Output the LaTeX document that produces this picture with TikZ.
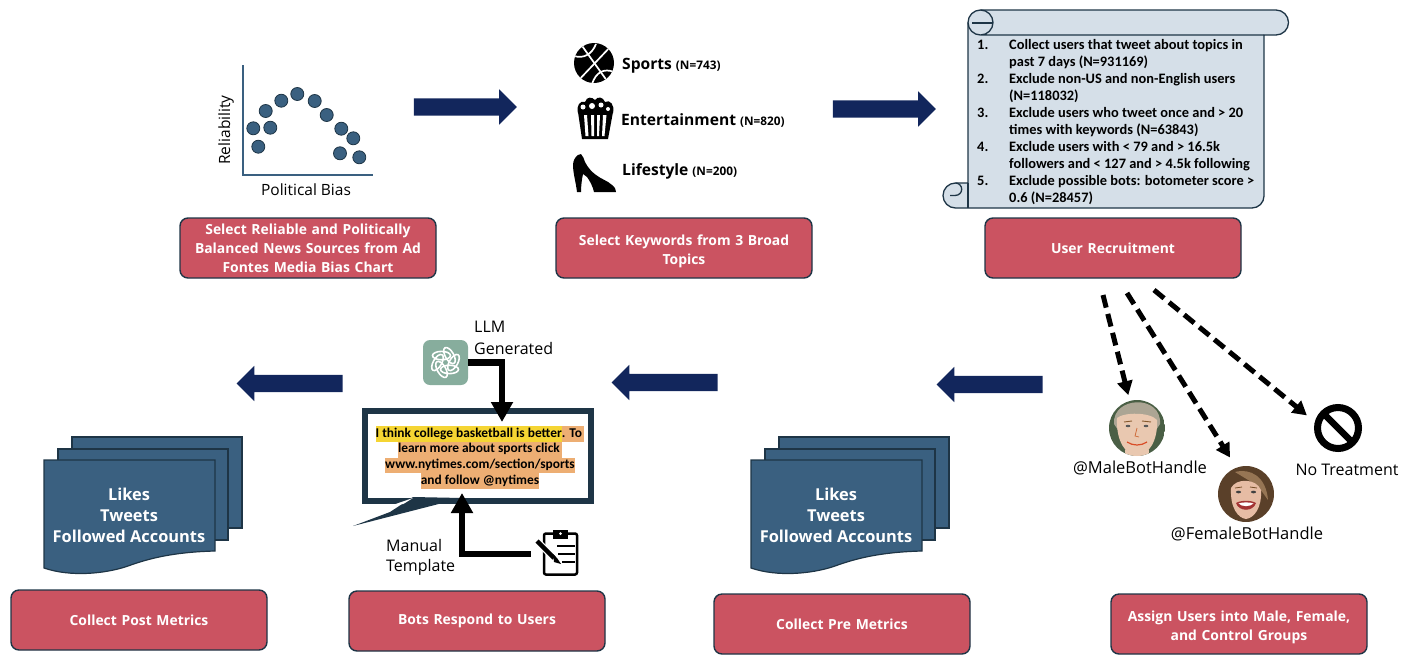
\documentclass[tikz,border=0pt]{standalone}
\usepackage{fontspec}
\setmainfont{Open Sans}
\newfontfamily\carl{Carlito}
\usetikzlibrary{arrows.meta,shapes.arrows,calc}
\definecolor{boxred}{HTML}{CB5361}
\definecolor{edge}{HTML}{1E3546}
\definecolor{steel}{HTML}{3A6080}
\definecolor{navy}{HTML}{12265C}
\definecolor{scrollc}{HTML}{D5DFE8}
\definecolor{hy}{HTML}{F5D533}
\definecolor{ho}{HTML}{EDAE73}
\definecolor{gpt}{HTML}{87AD9D}
\definecolor{skinm}{HTML}{E9C8B0}
\definecolor{hairm}{HTML}{ACA594}
\definecolor{bgm}{HTML}{4A5F45}
\definecolor{skinf}{HTML}{E6BCA4}
\definecolor{hairf}{HTML}{5A4029}
\newcommand{\fs}[2]{\fontsize{#1}{#2}\selectfont}
\newcommand{\twoline}{\rule{0pt}{16.5pt}}
\tikzset{
  x=1pt,y=-1pt,
  stepbox/.style={draw=edge,line width=1.4pt,fill=boxred,rounded corners=8pt,minimum width=256pt,minimum height=60pt,inner sep=2pt,text width=250pt,align=center,text=white,font=\fs{13.9}{19}\bfseries},
  rarrow/.style={single arrow,fill=navy,draw=none,inner sep=8.5pt,minimum width=35pt,minimum height=103pt,single arrow head extend=9pt,single arrow tip angle=90,anchor=center},
  larrow/.style={rarrow,minimum height=106pt,shape border rotate=180},
  sheet/.style={draw=edge,line width=1.2pt,fill=steel},
  dot/.style={circle,draw=edge,line width=.8pt,fill=steel,minimum size=13pt,inner sep=0pt},
  label/.style={inner sep=0pt,font=\fs{16}{18}},
  plotlabel/.style={inner sep=0pt,font=\fs{15.5}{18}},
  handle/.style={inner sep=0pt,font=\fs{16.5}{18}},
  toph/.style={inner sep=0pt,anchor=west,font=\fs{15.6}{18}\bfseries},
  dashconn/.style={line width=5pt,dash pattern=on 13pt off 6.5pt,-{Triangle[length=14pt,width=15pt]}},
  solidconn/.style={line width=6.5pt,-{Triangle[length=20pt,width=21pt]}},
  sheettext/.style={inner sep=0pt,align=center,text=white,font=\fs{16.4}{21}\bfseries},
  avatar/.style={circle,minimum size=56pt,inner sep=0pt,outer sep=0pt}
}
\begin{document}
\begin{tikzpicture}
\useasboundingbox (0,0) rectangle (1416,654);
% step boxes
\node[stepbox] (b1) at (308,248) {Select Reliable and Politically\\Balanced News Sources from Ad\\Fontes Media Bias Chart};
\node[stepbox] (b2) at (684,248) {\twoline Select Keywords from 3 Broad\\Topics};
\node[stepbox] (b3) at (1113,248) {User Recruitment};
\node[stepbox] (b4) at (139,620) {Collect Post Metrics};
\node[stepbox] (b5) at (477,621) {Bots Respond to Users};
\node[stepbox] (b6) at (842,624) {Collect Pre Metrics};
\node[stepbox] (b7) at (1239,624) {\twoline Assign Users into Male, Female,\\and Control Groups};
% block arrows
\node[rarrow] (a1) at (461,107) {};
\node[rarrow] (a2) at (880,109) {};
\node[larrow] (a3) at (994,384.5) {};
\node[larrow] (a4) at (669,382.5) {};
\node[larrow] (a5) at (294,383.5) {};
% plot
\draw[steel,line width=1.3pt] (243,65) -- (243,175) -- (373,175);
\foreach \i/\p in {1/{253.3,128.3},2/{258.3,146.7},3/{265.7,111},4/{270.3,127.7},5/{281.3,100.7},6/{297.3,94},7/{314.7,101},8/{326.7,115},9/{341.3,128.7},10/{353.3,138.3},11/{340,153.3},12/{359.3,157.3}}
  \node[dot] (p\i) at (\p) {};
\node[plotlabel,rotate=90] (rel) at (226,130) {Reliability};
\node[plotlabel] (pb) at (306,190) {Political Bias};
% topic icons
\fill (594,63) circle (20);
\begin{scope}
\clip (594,63) circle (20);
\draw[white,line width=1.7pt] (580,43) -- (610,85);
\draw[white,line width=1.7pt] (612,45) -- (576,83);
\draw[white,line width=1.7pt] (574,56) .. controls (584,59) and (592,54) .. (596,44);
\draw[white,line width=1.7pt] (614,72) .. controls (604,68) and (596,72) .. (592,84);
\end{scope}
\fill (578,113) .. controls (576,106) and (580,100) .. (585,102) .. controls (587,96) and (592,97) .. (595,100) .. controls (598,96) and (603,97) .. (605,102) .. controls (610,99) and (615,105) .. (613,113) -- cycle;
\fill[white] (583,107) circle (2.5) (592,106) circle (3) (601,105) circle (2.5) (608,109) circle (2);
\fill (578,112) -- (613,112) -- (608,139) -- (582,139) -- cycle;
\fill[white] (584,115) -- (587,115) -- (588.5,136) -- (585.5,136) -- cycle;
\fill[white] (591,115) -- (594,115) -- (594,136) -- (591.5,136) -- cycle;
\fill[white] (597,115) -- (600,115) -- (599,136) -- (597,136) -- cycle;
\fill[white] (603,115) -- (606.5,115) -- (604.5,136) -- (602,136) -- cycle;
\fill (578,155) -- (581,154) .. controls (583,156) and (584,159) .. (585,162) .. controls (588,168) and (592,172) .. (596,175) .. controls (601,179) and (608,181) .. (612,185) .. controls (615,187) and (616,190) .. (616,192) -- (594,192) .. controls (593,187) and (590,181) .. (587,177) -- (583,174) .. controls (582,178) and (581,186) .. (581,192) -- (577,192) .. controls (576,183) and (573,173) .. (573,165) .. controls (573,161) and (575,157) .. (578,155) -- cycle;
\node[toph] (t1) at (622,65.5) {Sports \fs{11.8}{14}(N=743)};
\node[toph] (t2) at (621,120.5) {Entertainment \fs{11.8}{14}(N=820)};
\node[toph] (t3) at (622,171.5) {Lifestyle \fs{11.8}{14}(N=200)};
% scroll
\draw[edge,line width=1.3pt,fill=scrollc,line join=round]
  (980.5,10) -- (1276,10) arc[start angle=-90,end angle=90,radius=12.5]
  -- (1264,35) -- (1264,196) arc[start angle=0,end angle=90,radius=12]
  -- (955.5,208) arc[start angle=90,end angle=270,radius=12.5]
  -- (968,183) -- (968,22.5) arc[start angle=180,end angle=270,radius=12.5] -- cycle;
\draw[edge,line width=1.3pt] (980.5,10) arc[start angle=270,end angle=450,radius=12.5] -- (1264,35);
\draw[edge,line width=1.3pt] (980.5,35) arc[start angle=90,end angle=180,radius=12.5];
\draw[edge,line width=1.3pt] (972,23) -- (993,23);
\draw[edge,line width=1.3pt] (968,208) -- (968,183);
\draw[edge,line width=1.3pt] (955.5,183) arc[start angle=270,end angle=450,radius=6.2] -- (950,195.5);
\node[inner sep=0pt,anchor=north west,font=\carl\fs{14.4}{17}\bfseries] (st) at (977,37) {\renewcommand\arraystretch{1}\begin{tabular}{@{}p{32pt}@{}l@{}}
1.& Collect users that tweet about topics in\\
  & past 7 days (N=931169)\\
2.& Exclude non-US and non-English users\\
  & (N=118032)\\
3.& Exclude users who tweet once and > 20\\
  & times with keywords (N=63843)\\
4.& Exclude users with < 79 and > 16.5k\\
  & followers and < 127 and > 4.5k following\\
5.& Exclude possible bots: botometer score >\\
  & 0.6 (N=28457)
\end{tabular}};
% avatars
\node[avatar] (male) at (1137,428) {};
\node[avatar] (female) at (1246,494) {};
\node[circle,minimum size=48pt,inner sep=0pt] (no) at (1338,428) {};
\begin{scope}
\clip (1137,428) circle (28);
\fill[bgm] (1109,400) rectangle (1165,456);
\fill[hairm] (1114,424) .. controls (1112,396) and (1162,394) .. (1160,424) -- (1156,430) -- (1118,430) -- cycle;
\fill[skinm] (1117,418) .. controls (1124,412) and (1150,412) .. (1157,420) .. controls (1158,442) and (1148,455) .. (1137,456) .. controls (1126,455) and (1116,442) .. (1117,418) -- cycle;
\fill[skinm] (1125,450) rectangle (1149,456);
\draw[brown!70!black,line width=.9pt] (1124,422) -- (1132,421) (1142,421) -- (1151,422);
\fill[black!65] (1128,426) ellipse (2.4 and 1.2) (1146,426) ellipse (2.4 and 1.2);
\draw[brown!80!red,line width=.7pt] (1137,428) -- (1135,436) -- (1139,437);
\draw[red!40!brown,line width=1.2pt] (1127,442) .. controls (1133,446) and (1141,446) .. (1147,442);
\end{scope}
\begin{scope}
\clip (1246,494) circle (28);
\fill[hairf] (1218,466) rectangle (1274,522);
\fill[brown!65!black!80] (1235,472) .. controls (1250,468) and (1266,476) .. (1268,500) -- (1258,486) -- cycle;
\fill[skinf] (1231,488) .. controls (1236,478) and (1256,478) .. (1261,490) .. controls (1262,508) and (1254,518) .. (1246,519) .. controls (1238,518) and (1230,508) .. (1231,488) -- cycle;
\draw[brown!60!black,line width=.8pt] (1235,488) -- (1242,487) (1250,487) -- (1257,488);
\fill[black!75] (1238.5,492) ellipse (2.6 and 1.3) (1253.5,492) ellipse (2.6 and 1.3);
\fill[red!55!black!80] (1236,503) .. controls (1241,500) and (1251,500) .. (1256,503) .. controls (1253,512) and (1239,512) .. (1236,503) -- cycle;
\fill[white] (1238.5,503.5) .. controls (1242,502) and (1250,502) .. (1253.5,503.5) .. controls (1250,507) and (1242,507) .. (1238.5,503.5) -- cycle;
\end{scope}
\draw[line width=7pt] (no) circle (20.5);
\draw[line width=6.5pt] ($(no)+(-14.5,-14.5)$) -- ($(no)+(14.5,14.5)$);
\node[handle] (lm) at (1140,468) {@MaleBotHandle};
\node[handle] (lf) at (1247,534) {@FemaleBotHandle};
\node[label] (ln) at (1347,470) {No Treatment};
\coordinate (d1) at (1103,295);
\coordinate (d2) at (1127,293);
\coordinate (d3) at (1154,290);
\draw[dashconn,shorten >=6pt] (d1) -- (male.105);
\draw[dashconn,shorten >=12pt] (d2) -- (female.110);
\draw[dashconn,shorten >=10pt] (d3) -- (no.165);
% sheets
\foreach \dx/\n in {0/L,707/R}{
\begin{scope}[shift={(\dx,0)}]
\draw[sheet] (72,437) rectangle (242,528);
\draw[sheet] (58,449) rectangle (228,540);
\draw[sheet] (44,460) -- (215,460) -- (215,551) .. controls (175,552) and (150,558) .. (128,566) .. controls (105,574) and (70,577) .. (44,568) -- cycle;
\node[sheettext] (s\n) at (129,515) {Likes\\Tweets\\Followed Accounts};
\end{scope}}
% bubble
\draw[edge,line width=6pt,fill=white] (365,411) rectangle (591,501);
\fill[edge] (413,497) -- (390,512) -- (353,526) -- (462,498) -- cycle;
\fill[white] (413,498) -- (403,504.2) -- (395,504.2) -- cycle;
\node[inner sep=0pt,align=center,font=\carl\fs{13.4}{15.6}\bfseries] (bt) at (480,457.5) {{\setlength\fboxsep{0pt}\colorbox{hy}{\strut I think college basketball is better}\colorbox{ho}{\strut. To\,}}\\
{\setlength\fboxsep{0pt}\colorbox{ho}{\strut learn more about sports click\,}}\\
{\setlength\fboxsep{0pt}\colorbox{ho}{\strut www.nytimes.com/section/sports}}\\
{\setlength\fboxsep{0pt}\colorbox{ho}{\strut and follow @nytimes}}};
% llm
\node[fill=gpt,rounded corners=7pt,minimum size=45pt,inner sep=0pt] (gptn) at (445.5,362.5) {};
\foreach \r in {0,60,...,300}
  \draw[white,line width=1.6pt,shift={(445.5,362.5)},rotate=\r,shift={(8,0)},rotate=60] (0,0) ellipse (9 and 4.2);
\node[label,anchor=west] (llm1) at (474,327) {LLM};
\node[label,anchor=west] (llm2) at (474,348) {Generated};
\coordinate (tipllm) at (502,422);
\draw[solidconn] (gptn.east) -- (502,362.5) -- (tipllm);
% clipboard
\node[draw,line width=2.5pt,rounded corners=2pt,minimum width=33pt,minimum height=41pt,inner sep=0pt] (clip) at (560.5,554) {};
\fill (553,530) rectangle (568,539);
\fill[white] (560.5,533.5) circle (1.5);
\draw[line width=1.8pt] (557,546) -- (575,546) (558,554) -- (575,554) (562,562) -- (575,562);
\draw[white,line width=7pt] (537,541) -- (558,562);
\draw[line width=4.5pt] (537,541) -- (554,558);
\fill (553,554) -- (557,558) -- (561,564) -- (554,562) -- cycle;
\node[label,anchor=west] (man1) at (386,545) {Manual};
\node[label,anchor=west] (man2) at (386,567) {Template};
\coordinate (tipman) at (462,493);
\draw[solidconn,shorten <=12pt] (clip.west) -- (462,554) -- (tipman);
\end{tikzpicture}
\end{document}
